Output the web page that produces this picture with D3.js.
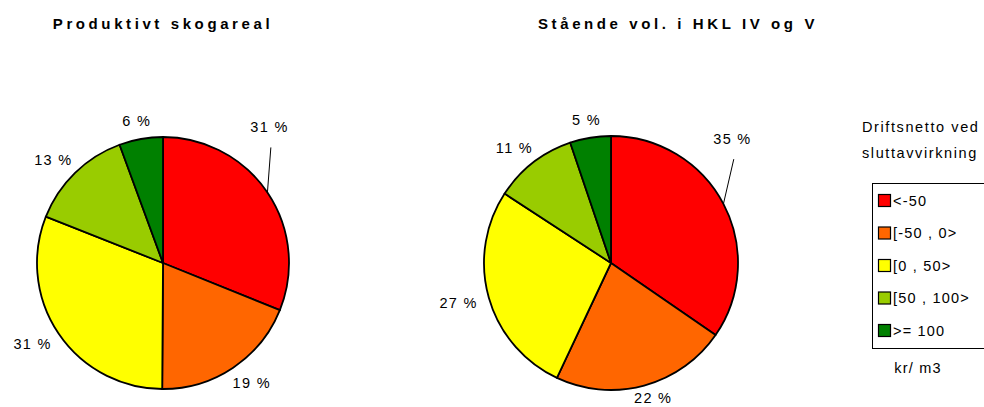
<!DOCTYPE html>
<html>
<head>
<meta charset="utf-8">
<script src="https://cdn.jsdelivr.net/npm/d3@7"></script>
<style>
  html, body { margin: 0; padding: 0; background: #fff; }
  svg { display: block; font-family: Arial, "Liberation Sans", sans-serif; }
</style>
</head>
<body>
<svg id="chart" width="984" height="407"></svg>
<script>
// ---- data ----
const categories = ["<-50", "[-50 , 0>", "[0 , 50>", "[50 , 100>", ">= 100"];
const colors = ["#FF0000", "#FF6600", "#FFFF00", "#99CC00", "#008000"];
const areaValues = [31.1, 19.0, 30.9, 13.4, 5.6];     // Produktivt skogareal (%)
const volumeValues = [34.6, 22.4, 27.2, 10.6, 5.2];   // Stående vol. i HKL IV og V (%)
const chartTitles = ["Produktivt skogareal", "Stående vol. i HKL IV og V"];
const legendTitle = ["Driftsnetto ved", "sluttavvirkning"];
const legendUnit = "kr/ m3";

// ---- layout ----
const svg = d3.select("#chart");
const charts = [
  { values: areaValues, title: chartTitles[0], cx: 163, cy: 263, r: 126, titleX: 161 },
  { values: volumeValues, title: chartTitles[1], cx: 611, cy: 263, r: 127, titleX: 676 }
];

const pie = d3.pie().sort(null).value(d => d);
const labelFont = 14.5, labelSpacing = 1.3;

charts.forEach(c => {
  svg.append("text")
    .attr("x", c.titleX + 2).attr("y", 29)
    .attr("text-anchor", "middle")
    .style("font-weight", "bold").style("font-size", "15px")
    .style("letter-spacing", "3.6px")
    .text(c.title);

  const g = svg.append("g").attr("transform", `translate(${c.cx},${c.cy})`);
  const arcs = pie(c.values);
  const arc = d3.arc().innerRadius(0).outerRadius(c.r);

  g.selectAll("path").data(arcs).join("path")
    .attr("d", arc)
    .attr("fill", (d, i) => colors[i])
    .attr("stroke", "#000").attr("stroke-width", 1.8)
    .attr("stroke-linejoin", "round");

  arcs.forEach((d, i) => {
    const mid = (d.startAngle + d.endAngle) / 2;
    const label = Math.round(d.data) + " %";
    const t = g.append("text")
      .attr("dominant-baseline", "central")
      .attr("text-anchor", "middle")
      .style("font-size", labelFont + "px")
      .style("letter-spacing", labelSpacing + "px")
      .attr("fill", "#000")
      .text(label);
    const w = t.node().getComputedTextLength();
    let x, y;
    if (i === 0) {
      // moved label with leader line
      const a = mid - 18 * Math.PI / 180;
      const rr = c.r + 46;
      x = rr * Math.sin(a); y = -rr * Math.cos(a);
      const ex = c.r * Math.sin(mid), ey = -c.r * Math.cos(mid);
      g.append("line")
        .attr("x1", ex).attr("y1", ey)
        .attr("x2", x + 2).attr("y2", y + 20)
        .attr("stroke", "#000").attr("stroke-width", 1);
    } else {
      const gap = 13, h = 10;
      const s = Math.sin(mid), co = -Math.cos(mid);
      x = (c.r + gap) * s + s * w / 2;
      y = (c.r + gap) * co + co * h / 2;
    }
    y = Math.min(y, 398 - c.cy);
    t.attr("x", x + labelSpacing / 2).attr("y", y);
  });
});

// ---- legend ----
const lg = svg.append("g");
lg.selectAll("text.lt").data(legendTitle).join("text")
  .attr("class", "lt")
  .attr("x", 862).attr("y", (d, i) => 132 + i * 26)
  .style("font-size", "14.5px").style("letter-spacing", "1.6px")
  .text(d => d);

lg.append("rect")
  .attr("x", 872.5).attr("y", 183.5).attr("width", 130).attr("height", 165)
  .attr("fill", "#fff").attr("stroke", "#000").attr("stroke-width", 1);

const items = lg.selectAll("g.item").data(categories).join("g")
  .attr("class", "item")
  .attr("transform", (d, i) => `translate(878,${200 + i * 32.5})`);
items.append("rect")
  .attr("x", 0.5).attr("y", -5.5).attr("width", 12).attr("height", 12)
  .attr("fill", (d, i) => colors[i])
  .attr("stroke", "#000").attr("stroke-width", 1.2);
items.append("text")
  .attr("x", 15).attr("y", 0.5)
  .attr("dominant-baseline", "central")
  .style("font-size", "14.5px").style("letter-spacing", "1.2px")
  .text(d => d);

lg.append("text")
  .attr("x", 918).attr("y", 373)
  .attr("text-anchor", "middle")
  .style("font-size", "14.5px").style("letter-spacing", "1.2px")
  .text(legendUnit);
</script>
</body>
</html>
